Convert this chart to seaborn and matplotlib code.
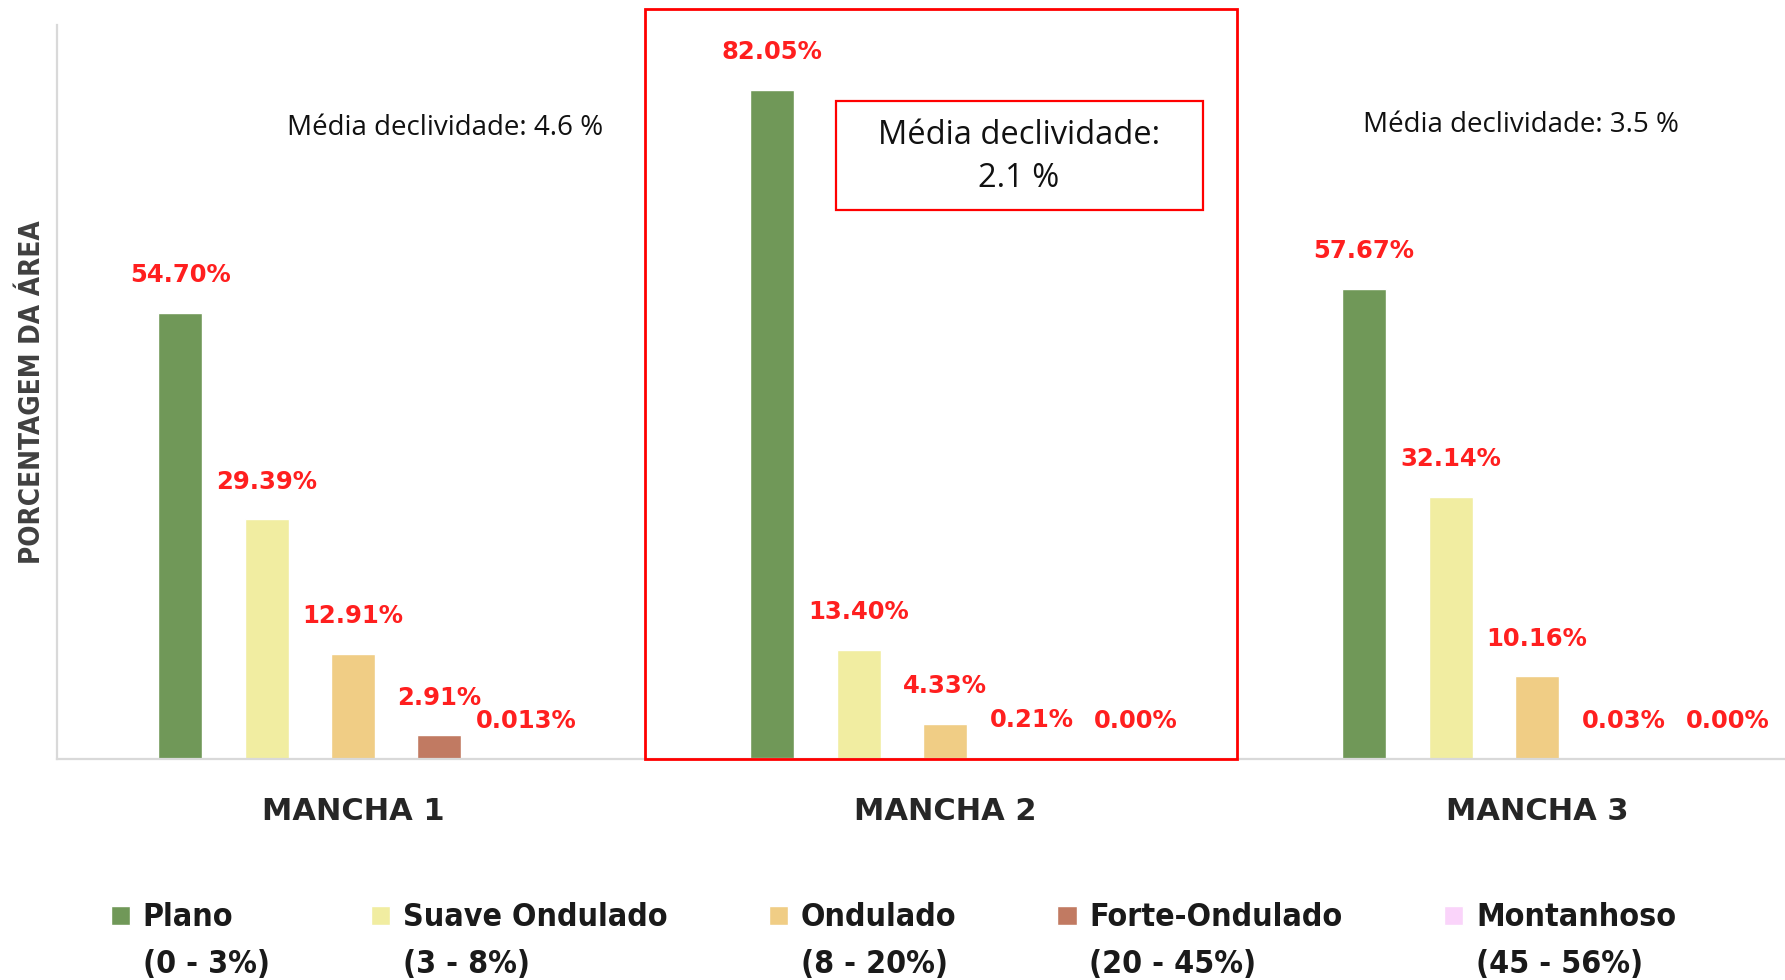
import matplotlib
matplotlib.use("Agg")
import numpy as np
import pandas as pd
import seaborn as sns
import matplotlib.pyplot as plt
import matplotlib.patches as mpatches
from matplotlib import font_manager
from matplotlib.legend_handler import HandlerPatch

# ---------------- data ----------------
manchas = ["MANCHA 1", "MANCHA 2", "MANCHA 3"]
classes = ["Plano", "Suave Ondulado", "Ondulado", "Forte-Ondulado", "Montanhoso"]
class_ranges = ["(0 - 3%)", "(3 - 8%)", "(8 - 20%)", "(20 - 45%)", "(45 - 56%)"]
mancha1 = [54.70, 29.39, 12.91, 2.91, 0.013]
mancha2 = [82.05, 13.40, 4.33, 0.21, 0.00]
mancha3 = [57.67, 32.14, 10.16, 0.03, 0.00]
labels1 = ["54.70%", "29.39%", "12.91%", "2.91%", "0.013%"]
labels2 = ["82.05%", "13.40%", "4.33%", "0.21%", "0.00%"]
labels3 = ["57.67%", "32.14%", "10.16%", "0.03%", "0.00%"]
medias = ["Média declividade: 4.6 %", "Média declividade:\n2.1 %", "Média declividade: 3.5 %"]
ylabel = "PORCENTAGEM DA ÁREA"
colors = ["#709858", "#f1eda1", "#f0cd85", "#c17a62", "#fad4fa"]

values = [mancha1, mancha2, mancha3]
labels = [labels1, labels2, labels3]
df = pd.DataFrame({
    "mancha": [m for m in manchas for _ in classes],
    "classe": classes * len(manchas),
    "pct": [v for row in values for v in row],
})

# ---------------- fonts ----------------
sns.set_theme(style="white")
plt.rcParams["font.family"] = ["DejaVu Sans"]

_cond = [f for f in font_manager.fontManager.ttflist
         if f.name == "DejaVu Sans" and str(f.stretch) in ("condensed", "semi-condensed")]
HAS_COND = len(_cond) > 0
if HAS_COND:
    leg_prop = font_manager.FontProperties(family="DejaVu Sans", stretch="condensed",
                                           weight="bold", size=23)
    ylab_prop = font_manager.FontProperties(family="DejaVu Sans", stretch="condensed",
                                            weight="bold", size=20)
else:
    leg_prop = font_manager.FontProperties(family="Roboto", weight="bold", size=22)
    ylab_prop = font_manager.FontProperties(family="Roboto", weight="bold", size=20)

fig = plt.figure(figsize=(17.85, 9.8), dpi=100)
ax = fig.add_axes([57 / 1785, 1 - 759 / 980, 1776 / 1785, 734 / 980])

sns.barplot(data=df, x="mancha", y="pct", hue="classe", order=manchas,
            hue_order=classes, palette=colors, saturation=1, width=0.73,
            gap=0.49, errorbar=None, legend=False, ax=ax)

ax.set_xlim(-0.5, 2.5)
ax.set_ylim(0, 90)
ax.set_yticks([])
ax.set_xlabel("")
for s in ["top", "right"]:
    ax.spines[s].set_visible(False)
for s in ["left", "bottom"]:
    ax.spines[s].set_color("#d9d9d9")
    ax.spines[s].set_linewidth(1.6)

ax.tick_params(axis="x", length=0, pad=27)
for t in ax.get_xticklabels():
    t.set_fontsize(22)
    t.set_fontweight("bold")
    t.set_color("#262626")

ax.set_ylabel(ylabel, fontproperties=ylab_prop, color="#404040", va="center")
ax.yaxis.set_label_coords(-0.014, 0.5)

# data labels
for hi, cont in enumerate(ax.containers):
    for p in cont.patches:
        xc = p.get_x() + p.get_width() / 2
        gi = int(round(xc))
        h = p.get_height()
        dx = 13 if values[gi][hi] == 0 else 0
        ax.annotate(labels[gi][hi], xy=(xc, h), xytext=(dx, 27),
                    textcoords="offset points", ha="center", va="center",
                    fontsize=17.5, fontweight="bold", color="#ff1f1f",
                    annotation_clip=False)

# mean slope annotations
ax.text(0.156, 77.4, medias[0], ha="center", va="center", fontsize=20,
        family=["Open Sans", "DejaVu Sans"], color="#111111")
ax.text(1.973, 77.7, medias[2], ha="center", va="center", fontsize=20,
        family=["Open Sans", "DejaVu Sans"], color="#111111")
ax.text(1.125, 73.8, medias[1], ha="center", va="center", fontsize=23.5,
        family=["Open Sans", "DejaVu Sans"], color="#111111", linespacing=1.4)
ax.add_patch(mpatches.Rectangle((0.8154, 67.26), 1.4365 - 0.8154, 80.66 - 67.26,
                                fill=False, edgecolor="#ff0000", lw=1.6,
                                clip_on=False, zorder=5))
ax.add_patch(mpatches.Rectangle((0.494, 0), 1.0, 91.96, fill=False,
                                edgecolor="#ff0000", lw=2.0, clip_on=False,
                                zorder=5))

# legend
LINE_STEP = 0.88


def first_line_patch(legend, orig_handle, xdescent, ydescent, width, height, fontsize):
    s = 0.6 * fontsize
    return mpatches.Rectangle((width - s - xdescent, LINE_STEP * fontsize), s, s)


handles = [cont.patches[0] for cont in ax.containers]
leg_labels = [f"{c}\n{r}" for c, r in zip(classes, class_ranges)]
leg = fig.legend(handles, leg_labels, loc="center",
                 bbox_to_anchor=(0.5, 1 - 941 / 980), ncol=5, frameon=False,
                 handlelength=0.65, handletextpad=0.4, columnspacing=3.12,
                 handler_map={mpatches.Rectangle: HandlerPatch(patch_func=first_line_patch)},
                 prop=leg_prop)
for t in leg.get_texts():
    t.set_linespacing(1.68)
    t.set_color("#1a1a1a")

fig.savefig("out.png", dpi=100)
